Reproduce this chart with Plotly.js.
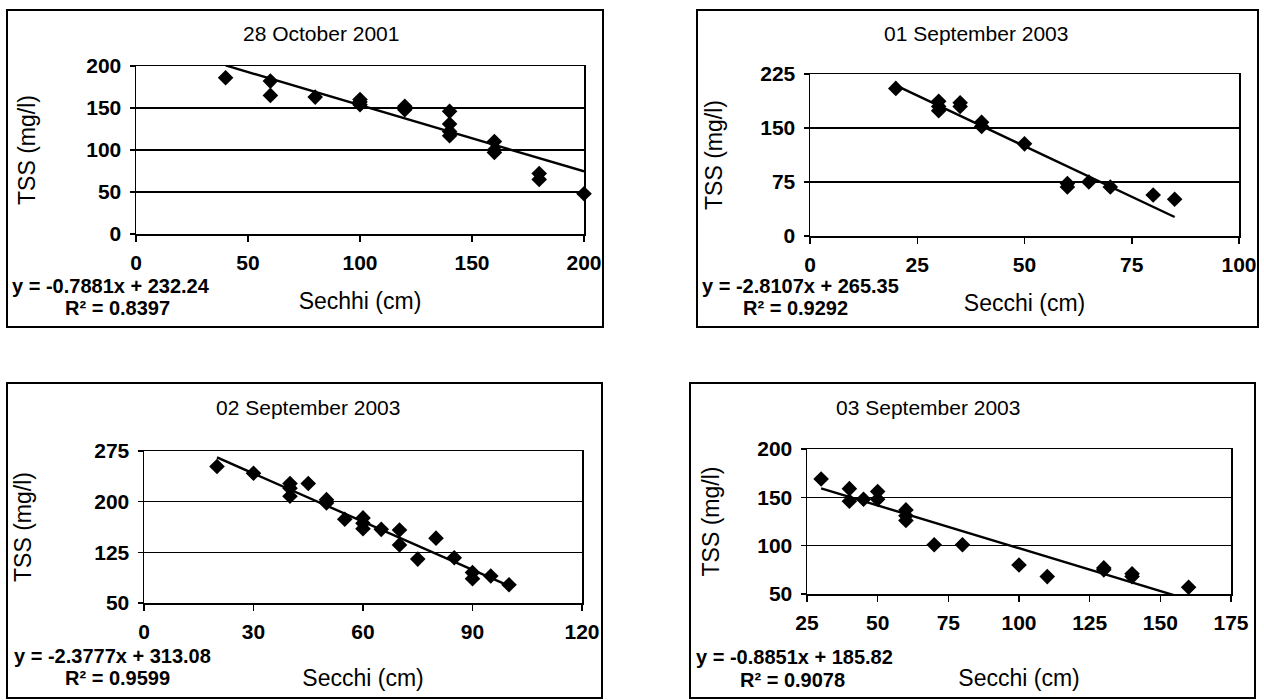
<!DOCTYPE html>
<html>
<head>
<meta charset="utf-8">
<script src="https://cdn.plot.ly/plotly-3.0.1.min.js"></script>
<style>html,body{margin:0;padding:0;background:#fff;}#chart{width:1264px;height:700px;}</style>
</head>
<body>
<div id="chart"></div>
<script>
// ---- data ----
const titles = ["28 October 2001", "01 September 2003", "02 September 2003", "03 September 2003"];
const xTitles = ["Sechhi (cm)", "Secchi (cm)", "Secchi (cm)", "Secchi (cm)"];
const yTitle = "TSS (mg/l)";
const equations = ["y = -0.7881x + 232.24", "y = -2.8107x + 265.35", "y = -2.3777x + 313.08", "y = -0.8851x + 185.82"];
const r2Labels = ["R\u00b2 = 0.8397", "R\u00b2 = 0.9292", "R\u00b2 = 0.9599", "R\u00b2 = 0.9078"];

const secchi1 = [40, 60, 60, 80, 100, 100, 100, 120, 120, 140, 140, 140, 140, 160, 160, 160, 180, 180, 200];
const tss1    = [186, 182, 165, 163, 160, 157, 154, 152, 148, 146, 131, 122, 117, 110, 100, 97, 72, 65, 48];
const trendX1 = [40, 200];
const trendY1 = [200.7, 74.6];

const secchi2 = [20, 30, 30, 30, 35, 35, 40, 40, 50, 60, 60, 65, 70, 80, 85];
const tss2    = [205, 187, 180, 174, 185, 180, 158, 152, 128, 73, 68, 75, 68, 57, 51];
const trendX2 = [20, 85];
const trendY2 = [209.1, 26.4];

const secchi3 = [20, 30, 40, 40, 40, 45, 50, 50, 55, 60, 60, 60, 65, 70, 70, 75, 80, 85, 90, 90, 95, 100];
const tss3    = [252, 242, 227, 220, 208, 227, 203, 198, 174, 176, 168, 160, 159, 158, 136, 115, 146, 117, 95, 86, 90, 77];
const trendX3 = [20, 100];
const trendY3 = [265.5, 75.3];

const secchi4 = [30, 40, 40, 45, 50, 50, 60, 60, 60, 70, 80, 100, 110, 130, 130, 140, 140, 160];
const tss4    = [169, 159, 146, 148, 156, 148, 137, 131, 126, 101, 101, 80, 68, 77, 75, 71, 68, 57];
const trendX4 = [30, 160];
const trendY4 = [159.3, 44.2];

const xRanges = [[0, 200], [0, 100], [0, 120], [25, 175]];
const xSteps  = [50, 25, 30, 25];
const yRanges = [[0, 200], [0, 225], [50, 275], [50, 200]];
const ySteps  = [50, 75, 75, 50];

// ---- layout geometry (pixels) ----
const W = 1264, H = 700;
const px = v => v / W;
const py = v => 1 - v / H;
const plots = [ // left, right, top, bottom of plot areas
  [136, 584, 66, 234],
  [810, 1239, 74, 236],
  [144, 582, 451, 603],
  [807, 1231, 449, 594]
];
const boxes = [ // outer chart borders
  [7, 603, 10, 327],
  [697, 1258, 10, 327],
  [7, 602, 383, 698],
  [690, 1255, 383, 698]
];
const titlePos = [[321, 33], [976, 33], [308, 407], [928, 407]];
const eqPos = [[10, 286], [700, 286], [12, 656], [694, 657]];
const r2Pos = [[63, 308], [741, 308], [63, 678], [738, 680]];
const xTitleStandoff = [20, 20, 28, 37];
const yTitleStandoff = [44, 31, 56, 31];

const FONT = "Liberation Sans, Arial, sans-serif";
const sx = [secchi1, secchi2, secchi3, secchi4];
const sy = [tss1, tss2, tss3, tss4];
const tx = [trendX1, trendX2, trendX3, trendX4];
const ty = [trendY1, trendY2, trendY3, trendY4];

const traces = [];
const layout = {
  width: W, height: H,
  margin: {l: 0, r: 0, t: 0, b: 0},
  paper_bgcolor: "#ffffff", plot_bgcolor: "#ffffff",
  showlegend: false,
  font: {family: FONT, color: "#000"},
  shapes: [], annotations: []
};

for (let i = 0; i < 4; i++) {
  const n = i === 0 ? "" : String(i + 1);
  const xa = "x" + n, ya = "y" + n;
  traces.push({
    type: "scatter", mode: "markers", x: sx[i], y: sy[i], xaxis: xa, yaxis: ya,
    marker: {symbol: "diamond", size: 12, color: "#000"}, cliponaxis: false
  });
  traces.push({
    type: "scatter", mode: "lines", x: tx[i], y: ty[i], xaxis: xa, yaxis: ya,
    line: {color: "#000", width: 2.4}
  });
  const p = plots[i];
  layout["xaxis" + n] = {
    domain: [px(p[0]), px(p[1])], anchor: ya, range: xRanges[i], dtick: xSteps[i], tick0: xRanges[i][0],
    showgrid: false, zeroline: false, showline: true, linecolor: "#000", linewidth: 1.5, mirror: true,
    ticks: "outside", ticklen: 6, tickcolor: "#000", tickwidth: 1.5,
    tickfont: {family: FONT, size: 21, color: "#000", weight: "bold"}, ticklabelstandoff: 3,
    title: {text: xTitles[i], font: {family: FONT, size: 23, color: "#000"}, standoff: xTitleStandoff[i]},
    fixedrange: true
  };
  layout["yaxis" + n] = {
    domain: [py(p[3]), py(p[2])], anchor: xa, range: yRanges[i], dtick: ySteps[i], tick0: yRanges[i][0],
    showgrid: true, gridcolor: "#000", gridwidth: 1.3, zeroline: false,
    showline: true, linecolor: "#000", linewidth: 1.5, mirror: true,
    ticks: "outside", ticklen: 5, tickcolor: "#000", tickwidth: 1.5,
    tickfont: {family: FONT, size: 21, color: "#000", weight: "bold"}, ticklabelstandoff: 4,
    title: {text: yTitle, font: {family: FONT, size: 23, color: "#000"}, standoff: yTitleStandoff[i]},
    fixedrange: true
  };
  const b = boxes[i];
  layout.shapes.push({type: "rect", xref: "paper", yref: "paper",
    x0: px(b[0]), x1: px(b[1]), y0: py(b[3]), y1: py(b[2]),
    line: {color: "#000", width: 2}, fillcolor: "rgba(0,0,0,0)"});
  layout.annotations.push({xref: "paper", yref: "paper", x: px(titlePos[i][0]), y: py(titlePos[i][1]),
    xanchor: "center", yanchor: "middle", showarrow: false, text: titles[i],
    font: {family: FONT, size: 21, color: "#000"}});
  layout.annotations.push({xref: "paper", yref: "paper", x: px(eqPos[i][0]), y: py(eqPos[i][1]),
    xanchor: "left", yanchor: "middle", showarrow: false, text: equations[i],
    font: {family: FONT, size: 20, color: "#000", weight: "bold"}});
  layout.annotations.push({xref: "paper", yref: "paper", x: px(r2Pos[i][0]), y: py(r2Pos[i][1]),
    xanchor: "left", yanchor: "middle", showarrow: false, text: r2Labels[i],
    font: {family: FONT, size: 20, color: "#000", weight: "bold"}});
}

Plotly.newPlot("chart", traces, layout, {staticPlot: true, displayModeBar: false});
</script>
</body>
</html>
